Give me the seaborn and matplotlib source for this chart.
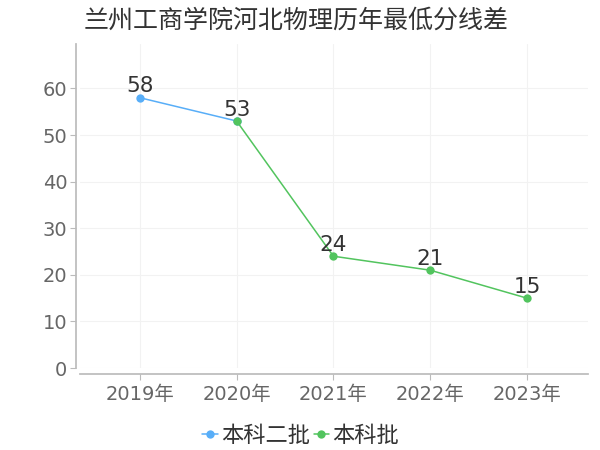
import matplotlib
matplotlib.use("Agg")
import matplotlib.pyplot as plt
import seaborn as sns
import pandas as pd

title = "兰州工商学院河北物理历年最低分线差"
years = ["2019年", "2020年", "2021年", "2022年", "2023年"]
series1_name = "本科二批"
series1_years = ["2019年", "2020年"]
series1_values = [58, 53]
series2_name = "本科批"
series2_years = ["2020年", "2021年", "2022年", "2023年"]
series2_values = [53, 24, 21, 15]
colors = ["#58aef8", "#52c45e"]

sns.set_theme(style="white")
plt.rcParams['font.family'] = ['DejaVu Sans', 'Noto Sans CJK SC']

df = pd.DataFrame({
    "year": series1_years + series2_years,
    "value": series1_values + series2_values,
    "series": [series1_name] * len(series1_years) + [series2_name] * len(series2_years),
})
df["year"] = pd.Categorical(df["year"], categories=years, ordered=True)
df["x"] = df["year"].cat.codes

fig = plt.figure(figsize=(6, 4.5), dpi=100)
ax = fig.add_axes([0.133, 0.182, 0.847, 0.72])

sns.lineplot(data=df, x="x", y="value", hue="series", palette=colors,
             marker="o", markersize=6, markeredgewidth=0, linewidth=1.1,
             ax=ax, legend=True)

for _, r in df.iterrows():
    if r["series"] == series1_name and r["year"] == "2020年":
        continue
    ax.annotate(str(r["value"]), (r["x"], r["value"]), xytext=(0, 1),
                textcoords="offset points", ha="center", va="bottom",
                fontsize=15.5, color="#333333")

ax.set_xlim(-0.62, 4.63)
ax.set_ylim(0, 69.5)
ax.set_xticks(range(len(years)))
ax.set_xticklabels(years)
ax.set_yticks(range(0, 61, 10))
ax.set_xlabel("")
ax.set_ylabel("")
ax.tick_params(axis="both", labelsize=14, length=4, width=0.8, direction="out")
ax.tick_params(axis="y", pad=2)
ax.tick_params(axis="x", pad=4)
ax.tick_params(axis="both", which="both", bottom=True, left=True)
ax.grid(True, color="#f2f2f2", linewidth=0.8)
for s in ["top", "right"]:
    ax.spines[s].set_visible(False)
ax.spines["left"].set_color("#bbbbbb")
ax.spines["bottom"].set_color("#bbbbbb")
ax.spines["left"].set_position(("outward", 3))
ax.spines["bottom"].set_position(("outward", 4))
ax.tick_params(colors="#bbbbbb", labelcolor="#666666")

leg = ax.legend(loc="upper center", bbox_to_anchor=(0.435, -0.115), ncol=2, frameon=False,
                fontsize=16, handlelength=0.7, handletextpad=0.15, columnspacing=0.15)
for t in leg.get_texts():
    t.set_color("#333333")

fig.text(0.493, 0.955, title, ha="center", va="center", fontsize=18, color="#333333")

fig.savefig("out.png", dpi=100)
